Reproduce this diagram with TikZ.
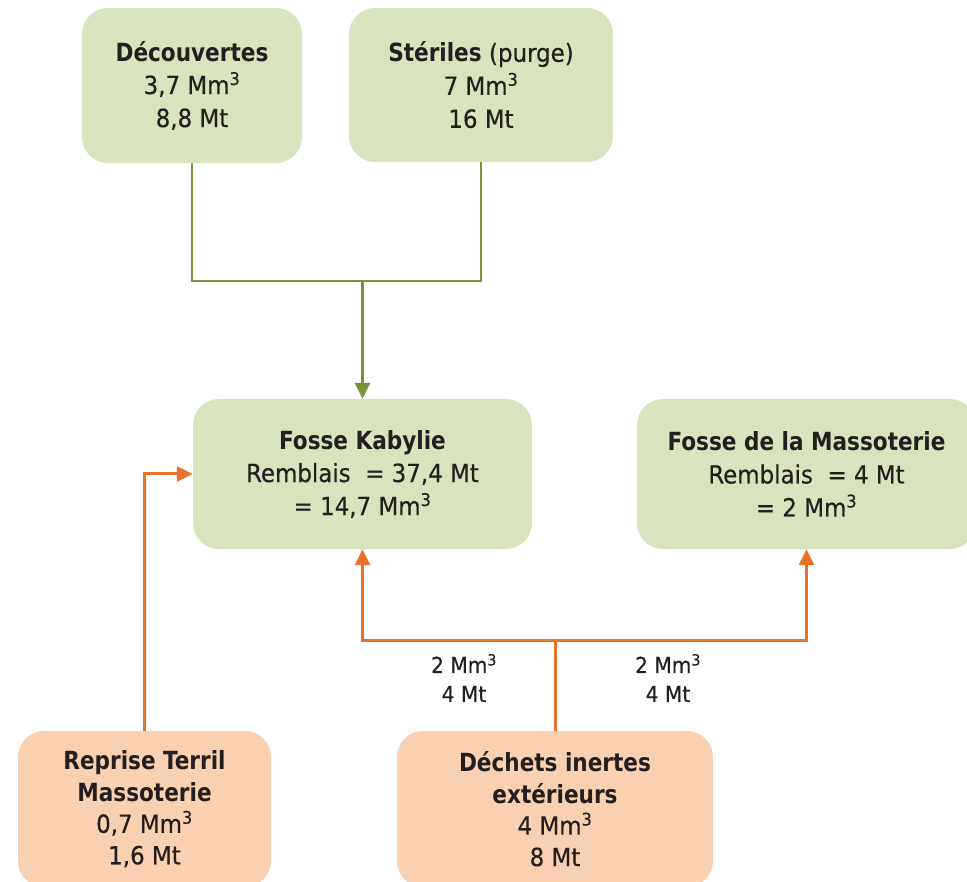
\documentclass[tikz,border=0pt]{standalone}
\usepackage{fontspec}
\setmainfont[FakeStretch=1.02, UprightFeatures={FakeBold=0.4}, BoldFeatures={FakeStretch=0.96}]{DejaVu Sans Condensed}
\usetikzlibrary{arrows.meta}
\definecolor{gfill}{HTML}{D8E4BE}
\definecolor{gline}{HTML}{77933C}
\definecolor{ofill}{HTML}{F9D1B1}
\definecolor{oline}{HTML}{E8722A}
\definecolor{txt}{HTML}{231F20}
\begin{document}
\begin{tikzpicture}[x=1pt,y=-1pt,
  box/.style={rounded corners=26pt, draw=none, align=center, inner sep=0pt, text=txt,
    font=\fontsize{25}{33}\selectfont},
  gbox/.style={box, fill=gfill},
  obox/.style={box, fill=ofill, font=\fontsize{25}{31.5}\selectfont},
  gcon/.style={draw=gline, line width=2.5pt},
  ocon/.style={draw=oline, line width=3pt},
  tip/.style={-{Triangle[length=16pt,width=15pt]}},
  lab/.style={align=center, text=txt, inner sep=0pt, font=\fontsize{22}{29}\selectfont}]
\useasboundingbox (0,0) rectangle (967,882);
\clip (0,0) rectangle (967,882);
\node[gbox, minimum width=220pt, minimum height=155pt] (dec) at (192,85.5)
  {\textbf{Découvertes}\\3,7 Mm\textsuperscript{3}\\8,8 Mt};
\node[gbox, minimum width=264pt, minimum height=154pt] (ste) at (481,85)
  {\textbf{Stériles} (purge)\\7 Mm\textsuperscript{3}\\16 Mt};
\node[gbox, minimum width=339pt, minimum height=150pt] (kab) at (362.5,474)
  {\textbf{Fosse Kabylie}\\Remblais\ \ = 37,4 Mt\\= 14,7 Mm\textsuperscript{3}};
\node[gbox, minimum width=339pt, minimum height=150pt] (mas) at (806.5,474)
  {\textbf{Fosse de la Massoterie}\\Remblais\ \ = 4 Mt\\= 2 Mm\textsuperscript{3}};
\node[obox, minimum width=253pt, minimum height=156pt] (rep) at (144.5,809)
  {\textbf{Reprise Terril}\\\textbf{Massoterie}\\0,7 Mm\textsuperscript{3}\\1,6 Mt};
\node[obox, minimum width=316pt, minimum height=156pt] (dech) at (555,809)
  {\textbf{Déchets inertes}\\\textbf{extérieurs}\\4 Mm\textsuperscript{3}\\8 Mt};
\coordinate (gj) at (362.5,281);
\coordinate (oj) at (555,640);
\draw[gcon] (dec.south) |- (gj);
\draw[gcon] (ste.south) |- (gj);
\draw[gcon, tip] (gj) -- (kab.north);
\draw[ocon, tip] (rep.north) |- (kab.west);
\draw[ocon] (dech.north) -- (oj);
\draw[ocon, tip] (oj) -| (kab.south);
\draw[ocon, tip] (oj) -| (mas.south);
\node[lab] (l1) at (464,678) {2 Mm\textsuperscript{3}\\4 Mt};
\node[lab] (l2) at (668,678) {2 Mm\textsuperscript{3}\\4 Mt};
\end{tikzpicture}
\end{document}
